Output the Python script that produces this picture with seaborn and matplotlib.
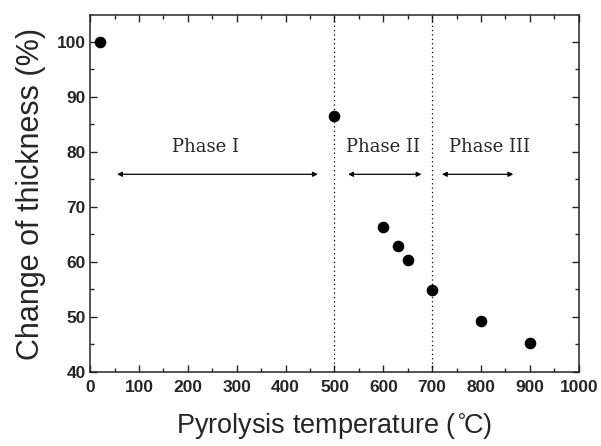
import numpy as np
import pandas as pd
import matplotlib
matplotlib.use("Agg")
import matplotlib.pyplot as plt
import seaborn as sns

# data
temperature = [20, 500, 600, 630, 650, 700, 800, 900]
thickness = [100.0, 86.4, 66.3, 62.8, 60.3, 54.8, 49.2, 45.2]
phase_bounds = [500, 700]
phase_labels = ["Phase I", "Phase II", "Phase III"]
phase_text_x = [237, 599, 818]
phase_arrows = [(55, 466), (528, 678), (720, 866)]
arrow_y = 75.9
text_y = 80.9

df = pd.DataFrame({"temp": temperature, "thick": thickness})

sns.set_style("ticks")
plt.rcParams['font.family'] = ['Liberation Sans', 'DejaVu Sans']

fig = plt.figure(figsize=(6.01, 4.46), dpi=100)
ax = fig.add_axes([0.150, 0.166, 0.813, 0.800])

sns.scatterplot(data=df, x="temp", y="thick", ax=ax, color="black",
                s=70, edgecolor="black", linewidth=0, zorder=3)

for xb in phase_bounds:
    ax.axvline(xb, color="black", linestyle=(0, (1, 2.5)), linewidth=0.9)

for (x0, x1), lab, tx in zip(phase_arrows, phase_labels, phase_text_x):
    ax.annotate("", xy=(x0, arrow_y), xytext=(x1, arrow_y),
                arrowprops=dict(arrowstyle="<|-|>", color="black", lw=0.9,
                                mutation_scale=7, shrinkA=0, shrinkB=0))
    ax.text(tx, text_y, lab, ha="center", va="center", fontsize=13,
            family="DejaVu Serif")

ax.set_xlim(0, 1000)
ax.set_ylim(40, 104.8)
ax.set_xticks(np.arange(0, 1001, 100))
ax.set_xticks(np.arange(0, 1001, 50), minor=True)
ax.set_yticks(np.arange(40, 101, 10))
ax.set_yticks(np.arange(40, 105, 5), minor=True)
ax.tick_params(which="both", direction="in", top=True, right=True,
               labelsize=12.5, width=1)
ax.tick_params(which="major", length=5, pad=3)
ax.tick_params(axis="x", which="major", pad=6)
ax.tick_params(which="minor", length=3)
for lbl in ax.get_xticklabels() + ax.get_yticklabels():
    lbl.set_fontweight("bold")
for sp in ax.spines.values():
    sp.set_linewidth(1.1)
    sp.set_visible(True)

ax.set_xlabel("Pyrolysis temperature ($^{\\circ}\\!$C)", fontsize=19.5, labelpad=11)
ax.set_ylabel("Change of thickness (%)", fontsize=22, labelpad=8)

fig.savefig("out.png", dpi=100)
